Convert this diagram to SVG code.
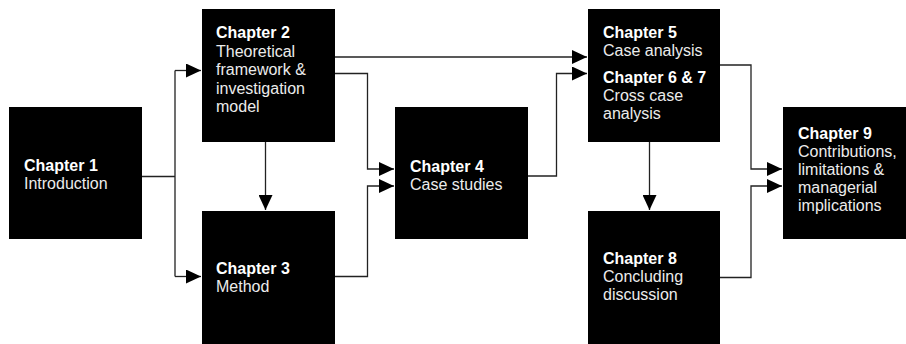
<svg xmlns="http://www.w3.org/2000/svg" width="906" height="344" viewBox="0 0 906 344">
<style>
.box{fill:#000}
.h{font-family:"Liberation Sans",Arial,sans-serif;font-weight:bold;font-size:16px;fill:#fff}
.t{font-family:"Liberation Sans",Arial,sans-serif;font-size:16px;fill:#ececec}
.c{fill:none;stroke:#222;stroke-width:1.3}
</style>
<defs>
<marker id="ah" markerUnits="userSpaceOnUse" markerWidth="15" markerHeight="14" refX="15" refY="7" orient="auto">
<path d="M0,0 L15,7 L0,14 z" fill="#000"/>
</marker>
</defs>
<rect width="906" height="344" fill="#fff"/>
<g id="connectors">
<path class="c" d="M142,176.5 H175 M175,70.5 V276.5"/>
<path class="c" d="M175,70.5 H201" marker-end="url(#ah)"/>
<path class="c" d="M175,276.5 H201" marker-end="url(#ah)"/>
<path class="c" d="M265.5,142 V210" marker-end="url(#ah)"/>
<path class="c" d="M335,57 H587" marker-end="url(#ah)"/>
<path class="c" d="M335,73.5 H367.5 V169 H394" marker-end="url(#ah)"/>
<path class="c" d="M335,276.5 H367.5 V186 H394" marker-end="url(#ah)"/>
<path class="c" d="M528,176 H556.5 V73.5 H587" marker-end="url(#ah)"/>
<path class="c" d="M649.5,142 V210" marker-end="url(#ah)"/>
<path class="c" d="M720,65 H751 V169 H782" marker-end="url(#ah)"/>
<path class="c" d="M720,277.5 H751 V186 H782" marker-end="url(#ah)"/>
</g>
<g id="ch1">
<rect class="box" x="9" y="107" width="133" height="132"/>
<text class="h" x="24" y="171">Chapter 1</text>
<text class="t" x="24" y="189">Introduction</text>
</g>
<g id="ch2">
<rect class="box" x="202" y="9" width="133" height="133"/>
<text class="h" x="216" y="38">Chapter 2</text>
<text class="t" x="216" y="56.5">Theoretical</text>
<text class="t" x="216" y="75">framework &amp;</text>
<text class="t" x="216" y="93.5">investigation</text>
<text class="t" x="216" y="112">model</text>
</g>
<g id="ch3">
<rect class="box" x="202" y="211" width="133" height="133"/>
<text class="h" x="216" y="274">Chapter 3</text>
<text class="t" x="216" y="292">Method</text>
</g>
<g id="ch4">
<rect class="box" x="395" y="107" width="133" height="132"/>
<text class="h" x="410" y="172">Chapter 4</text>
<text class="t" x="410" y="190">Case studies</text>
</g>
<g id="ch5">
<rect class="box" x="588" y="9" width="132" height="133"/>
<text class="h" x="603" y="38">Chapter 5</text>
<text class="t" x="603" y="56">Case analysis</text>
<text class="h" x="603" y="83">Chapter 6 &amp; 7</text>
<text class="t" x="603" y="101">Cross case</text>
<text class="t" x="603" y="119">analysis</text>
</g>
<g id="ch8">
<rect class="box" x="588" y="211" width="132" height="133"/>
<text class="h" x="603" y="264">Chapter 8</text>
<text class="t" x="603" y="282">Concluding</text>
<text class="t" x="603" y="300">discussion</text>
</g>
<g id="ch9">
<rect class="box" x="783" y="107" width="123" height="132"/>
<text class="h" x="798" y="138.5">Chapter 9</text>
<text class="t" x="798" y="156.5">Contributions,</text>
<text class="t" x="798" y="174.5">limitations &amp;</text>
<text class="t" x="798" y="192.5">managerial</text>
<text class="t" x="798" y="210.5">implications</text>
</g>
</svg>
